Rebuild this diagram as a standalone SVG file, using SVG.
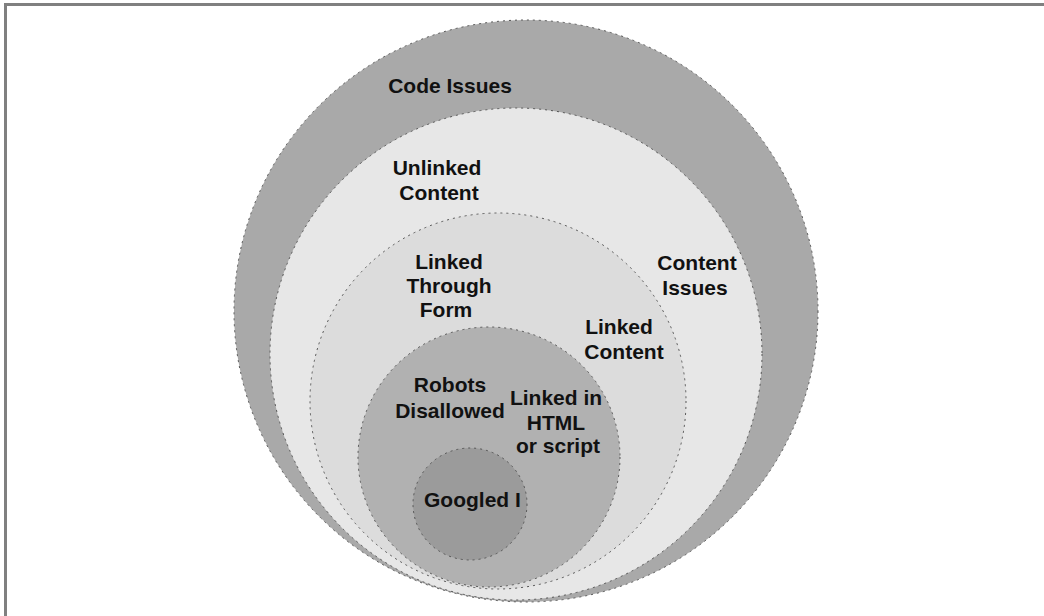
<svg xmlns="http://www.w3.org/2000/svg" width="1044" height="616" viewBox="0 0 1044 616">
<style>
.lbl{font-family:"Liberation Sans",Arial,sans-serif;font-weight:bold;font-size:21px;fill:#111;text-anchor:middle}
.ring{stroke:#555;stroke-width:1;stroke-dasharray:2 4}
</style>
<rect width="1044" height="616" fill="#fff"/>
<line x1="4" y1="4.5" x2="1044" y2="4.5" stroke="#808080" stroke-width="3"/>
<line x1="5.5" y1="4" x2="5.5" y2="616" stroke="#808080" stroke-width="3"/>
<g id="code-issues">
<ellipse cx="526" cy="311" rx="292" ry="291" fill="#a9a9a9" class="ring"/>
<text class="lbl" x="450" y="93">Code Issues</text>
</g>
<g id="content-issues">
<ellipse cx="516" cy="354" rx="246" ry="246" fill="#e7e7e7" class="ring"/>
<text class="lbl" x="437" y="175">Unlinked</text>
<text class="lbl" x="439" y="200">Content</text>
<text class="lbl" x="697" y="270">Content</text>
<text class="lbl" x="695" y="295">Issues</text>
</g>
<g id="linked-content">
<ellipse cx="498" cy="401" rx="188" ry="188" fill="#dcdcdc" class="ring"/>
<text class="lbl" x="449" y="269">Linked</text>
<text class="lbl" x="449" y="293">Through</text>
<text class="lbl" x="446" y="317">Form</text>
<text class="lbl" x="619" y="334">Linked</text>
<text class="lbl" x="624" y="359">Content</text>
</g>
<g id="robots-disallowed">
<ellipse cx="489" cy="457" rx="131" ry="130" fill="#b1b1b1" class="ring"/>
<text class="lbl" x="450" y="392">Robots</text>
<text class="lbl" x="450" y="418">Disallowed</text>
<text class="lbl" x="556" y="405">Linked in</text>
<text class="lbl" x="556" y="430">HTML</text>
<text class="lbl" x="558" y="453">or script</text>
</g>
<g id="googled">
<ellipse cx="470" cy="504" rx="57" ry="56" fill="#9b9b9b" class="ring"/>
<text class="lbl" x="424" y="507" style="text-anchor:start">Googled I</text>
</g>
<g id="connectors"/>
</svg>
